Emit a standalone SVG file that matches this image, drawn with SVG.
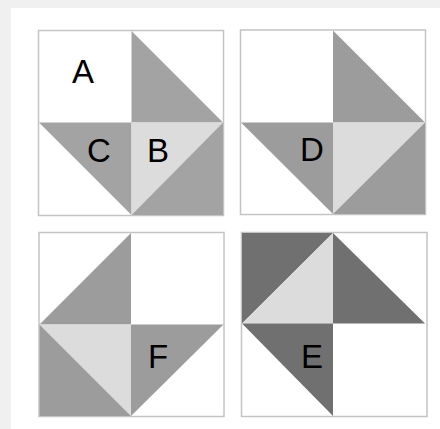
<svg xmlns="http://www.w3.org/2000/svg" width="440" height="429" viewBox="0 0 440 429">
<style>
.frame{fill:#ffffff;stroke:#c4c4c4;stroke-width:1.5}
.m{fill:#a3a3a3}
.m2{fill:#9c9c9c}
.l{fill:#dcdcdc}
.d{fill:#707070}
.lbl{font-family:"Liberation Sans",Arial,sans-serif;font-size:33px;fill:#000000;text-anchor:middle}
</style>
<rect x="0" y="0" width="440" height="429" fill="#f0f0f0"/>
<rect x="11" y="8" width="429" height="421" fill="#ffffff"/>
<g id="block-top-left">
<rect class="frame" x="38.5" y="30.5" width="185" height="185"/>
<polygon class="m" points="131.5,31 131.5,122.5 223,122.5"/>
<polygon class="m" points="39,122.5 131.5,122.5 131.5,215"/>
<polygon class="l" points="131.5,122.5 223,122.5 131.5,215"/>
<polygon class="m" points="223,122.5 223,215 131.5,215"/>
<text class="lbl" x="83" y="83">A</text>
<text class="lbl" x="99" y="162">C</text>
<text class="lbl" x="158" y="162">B</text>
</g>
<g id="block-top-right">
<rect class="frame" x="240.5" y="30" width="185" height="184.5"/>
<polygon class="m2" points="333,30.5 333,122.5 425,122.5"/>
<polygon class="m2" points="241,122.5 333,122.5 333,214"/>
<polygon class="l" points="333,122.5 425,122.5 333,214"/>
<polygon class="m2" points="425,122.5 425,214 333,214"/>
<text class="lbl" x="312" y="161">D</text>
</g>
<g id="block-bottom-left">
<rect class="frame" x="39" y="232.5" width="185" height="184"/>
<polygon class="m2" points="39.5,324.5 131,233 131,324.5"/>
<polygon class="l" points="39.5,324.5 131,324.5 131,416"/>
<polygon class="m2" points="39.5,324.5 131,416 39.5,416"/>
<polygon class="m2" points="131,324.5 223.5,324.5 131,416"/>
<text class="lbl" x="158" y="368">F</text>
</g>
<g id="block-bottom-right">
<rect class="frame" x="241.5" y="232.5" width="185.5" height="184"/>
<polygon class="d" points="242,233 333,233 242,323.5"/>
<polygon class="l" points="333,233 333,323.5 242,323.5"/>
<polygon class="d" points="333,233 333,323.5 425,323.5"/>
<polygon class="d" points="242,323.5 333,323.5 333,416"/>
<text class="lbl" x="312" y="368">E</text>
</g>
<g id="connectors"></g>
</svg>
